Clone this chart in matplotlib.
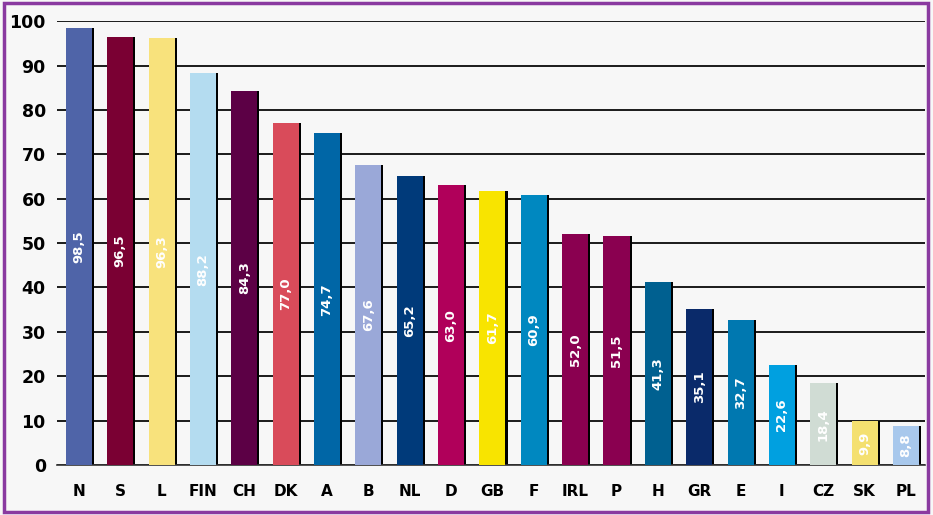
import matplotlib.pyplot as plt
import numpy as np
from matplotlib.patches import Rectangle

# Data
countries = ['N', 'S', 'L', 'FIN', 'CH', 'DK', 'A', 'B', 'NL', 'D', 'GB',
             'F', 'IRL', 'P', 'H', 'GR', 'E', 'I', 'CZ', 'SK', 'PL']
values = [98.5, 96.5, 96.3, 88.2, 84.3, 77.0, 74.7, 67.6, 65.2, 63.0, 61.7,
          60.9, 52.0, 51.5, 41.3, 35.1, 32.7, 22.6, 18.4, 9.9, 8.8]
colors = ['#4f64a8', '#7a0033', '#f8e27c', '#b4dcf0', '#5c0045', '#d94b5a',
          '#0066a6', '#9aa8d8', '#003a7a', '#b0005a', '#f8e400', '#0088c0',
          '#8a0050', '#8a0050', '#006090', '#0a2a6a', '#0078b0', '#00a0e0',
          '#d0dcd4', '#f4e070', '#a8c8ec']

fig = plt.figure(figsize=(9.33, 5.15), dpi=100, facecolor='#f7f7f7')
ax = fig.add_axes([0.061, 0.097, 0.93, 0.862])
ax.set_facecolor('#f7f7f7')

x = np.arange(len(countries))
# black shadow on the right side of each bar
ax.bar(x + 0.05, values, width=0.63, color='black', zorder=2)
ax.bar(x, values, width=0.63, color=colors, zorder=3)

for xi, v in zip(x, values):
    ax.text(xi, v / 2, f'{v:.1f}'.replace('.', ','), rotation=90,
            ha='center', va='center', color='white', fontsize=9.5,
            fontweight='bold', zorder=4)

ax.set_ylim(0, 100)
ax.set_xlim(-0.53, 20.45)
ax.set_yticks(range(0, 101, 10))
ax.yaxis.grid(True, color='#1a1a1a', linewidth=1.4)
ax.set_axisbelow(True)
ax.set_xticks(x)
ax.set_xticklabels(countries, fontsize=11, fontweight='bold')
ax.tick_params(axis='x', length=0, pad=14)
ax.tick_params(axis='y', length=0, labelsize=12.5, pad=8)
for lab in ax.get_yticklabels():
    lab.set_fontweight('bold')
for s in ['top', 'right', 'left']:
    ax.spines[s].set_visible(False)
ax.spines['bottom'].set_color('#333333')
ax.spines['bottom'].set_linewidth(1.2)

# purple frame around the figure
fig.patches.append(Rectangle((0.004, 0.006), 0.991, 0.988,
                             transform=fig.transFigure, fill=False,
                             edgecolor='#8a3aa0', linewidth=2.5))

fig.savefig('out.png', dpi=100, facecolor=fig.get_facecolor())
